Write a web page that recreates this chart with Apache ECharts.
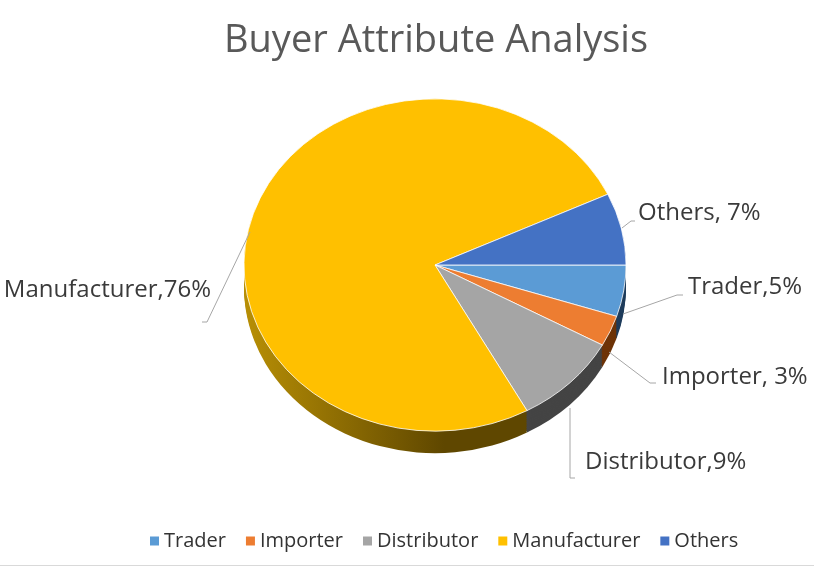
<!DOCTYPE html>
<html><head><meta charset="utf-8">
<script src="https://cdn.jsdelivr.net/npm/echarts@6/dist/echarts.min.js"></script>
<style>
html,body{margin:0;padding:0;background:#fff;}
#wrap{position:relative;width:814px;height:567px;overflow:hidden;}
#pie{position:absolute;left:0;top:0;width:814px;height:567px;transform:scaleY(0.87);transform-origin:435px 265px;}
#ov{position:absolute;left:0;top:0;width:814px;height:567px;}
#frame{position:absolute;left:0;top:565px;width:814px;height:1px;background:#d9d9d9;}
</style>
</head><body>
<div id="wrap"><div id="pie"></div><div id="ov"></div><div id="frame"></div></div>
<script>
// ---- data ----
const titleText = 'Buyer Attribute Analysis';
const categories = ['Trader', 'Importer', 'Distributor', 'Manufacturer', 'Others'];
const shares = [5, 3, 9, 76, 7];
const labelTexts = ['Trader,5%', 'Importer, 3%', 'Distributor,9%', 'Manufacturer,76%', 'Others, 7%'];

// ---- styles ----
const topColors = ['#5b9bd5', '#ed7d31', '#a5a5a5', '#ffc000', '#4472c4'];
const sideColors = [
  '#1f3d5c',
  '#6e3408',
  '#444444',
  { type: 'linear', x: 0, y: 0, x2: 0.55, y2: 0, colorStops: [{ offset: 0, color: '#b88f05' }, { offset: 1, color: '#5f4700' }] },
  '#2a4a85'
];
const K = 0.87;          // vertical squash of the pie
const CX = 435, CY = 265, R = 191;
const DEPTH = 22;        // visual depth in px

// label placement (text anchor + leader line), relative to the pie centre
const labelPlacement = [
  { x: 253, y: 22, align: 'left',  line: [[188, 49], [242, 30], [248, 30]] },
  { x: 227, y: 112, align: 'left', line: [[174, 87], [215, 118], [221, 118]] },
  { x: 150, y: 197, align: 'left', line: [[135, 143], [135, 213], [140, 213]] },
  { x: -224, y: 25, align: 'right', line: [[-185, -33], [-228, 57], [-233, 57]] },
  { x: 203, y: -52, align: 'left', line: [[187, -37], [196, -44], [200, -44]] }
];

const pieData = (colors) => categories.map((n, i) => ({ name: n, value: shares[i], itemStyle: { color: colors[i] } }));

// ---- pie body (squashed via CSS) ----
const pieChart = echarts.init(document.getElementById('pie'), null, { renderer: 'svg' });
const series = [];
const steps = 12;
for (let s = steps; s >= 1; s--) {
  const off = DEPTH * s / steps / K;
  series.push({
    type: 'pie', silent: true, animation: false,
    startAngle: 0, clockwise: true,
    center: [CX, CY + off], radius: R,
    label: { show: false }, labelLine: { show: false },
    itemStyle: { borderWidth: 0 },
    data: pieData(sideColors)
  });
}
series.push({
  type: 'pie', silent: true, animation: false,
  startAngle: 0, clockwise: true,
  center: [CX, CY], radius: R,
  label: { show: false }, labelLine: { show: false },
  itemStyle: { borderWidth: 1, borderColor: 'rgba(255,255,255,0.85)' },
  data: pieData(topColors)
});
pieChart.setOption({ animation: false, series });

// ---- overlay: title, legend, labels ----
const ov = echarts.init(document.getElementById('ov'));
ov.setOption({
  animation: false,
  title: {
    text: titleText, left: 219, top: 17,
    textStyle: { fontFamily: 'Open Sans', fontSize: 38, fontWeight: 'normal', color: '#595959' }
  },
  legend: {
    bottom: 11, left: 145, itemWidth: 9, itemHeight: 9, itemGap: 20, icon: 'rect',
    textStyle: { fontFamily: 'Open Sans', fontSize: 20, color: '#333333' },
    data: categories.map((n, i) => ({ name: n, itemStyle: { color: topColors[i] } }))
  },
  series: [{
    type: 'pie', silent: true,
    startAngle: 0, clockwise: true,
    center: [CX, CY], radius: [0, R * 0.93],
    itemStyle: { color: 'rgba(0,0,0,0)' },
    label: {
      show: true, fontFamily: 'Open Sans', fontSize: 24, color: '#3a3a3a', overflow: 'none',
      formatter: (p) => labelTexts[p.dataIndex]
    },
    labelLine: { show: true, lineStyle: { color: '#a6a6a6', width: 1 } },
    labelLayout: (p) => {
      const L = labelPlacement[p.dataIndex];
      return {
        x: CX + L.x, y: CY + L.y, align: L.align, verticalAlign: 'middle',
        labelLinePoints: L.line.map(pt => [CX + pt[0], CY + pt[1]])
      };
    },
    data: categories.map((n, i) => ({
      name: n, value: shares[i],
      itemStyle: { color: 'rgba(0,0,0,0)' }
    }))
  }]
});
</script>
</body></html>
